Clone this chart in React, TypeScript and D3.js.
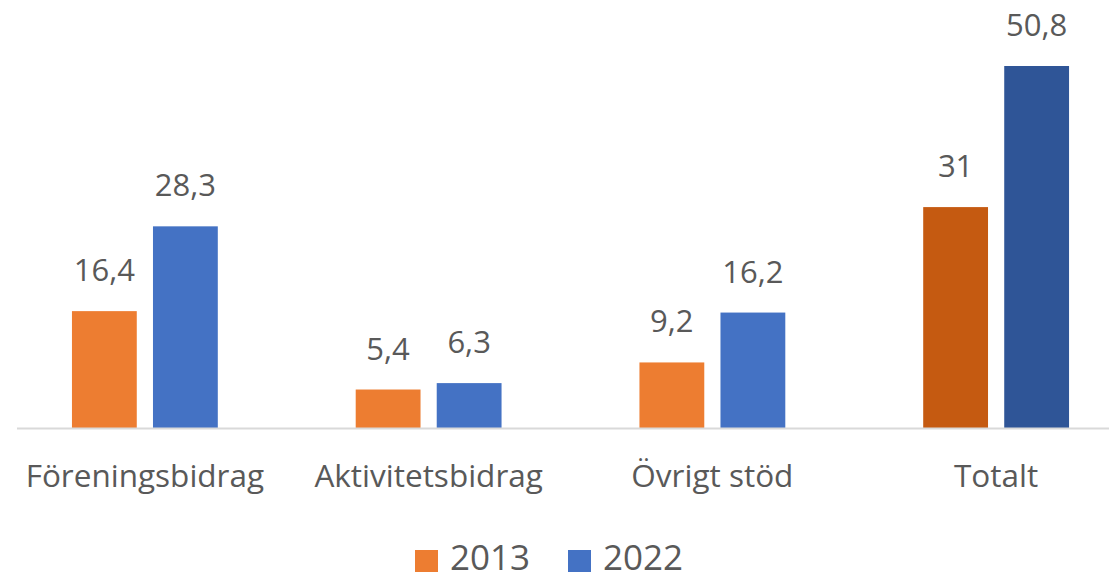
import React from "react";
import * as d3 from "d3";

const categories = ["Föreningsbidrag", "Aktivitetsbidrag", "Övrigt stöd", "Totalt"];
const seriesNames = ["2013", "2022"];
const values2013 = [16.4, 5.4, 9.2, 31];
const values2022 = [28.3, 6.3, 16.2, 50.8];
const labels2013 = ["16,4", "5,4", "9,2", "31"];
const labels2022 = ["28,3", "6,3", "16,2", "50,8"];

const W = 1109;
const H = 580;
const FONT = "'Open Sans', sans-serif";
const TEXT = "#595959";
const baseColors = ["#ED7D31", "#4472C4"];
const totalColors = ["#C55A11", "#2F5597"];

export default function App() {
  const x0 = d3.scaleBand<string>().domain(categories).range([3, 1138]).paddingInner(0.486).paddingOuter(0.243);
  const x1 = d3.scaleBand<string>().domain(seriesNames).range([0, x0.bandwidth()]).paddingInner(0.2).paddingOuter(0);
  const y = d3.scaleLinear().domain([0, 50.8]).range([428, 66]);
  const series = [values2013, values2022];
  const labels = [labels2013, labels2022];

  return (
    <svg width={W} height={H} style={{ position: "absolute", left: 0, top: 0, background: "#fff" }}>
      {categories.map((c, ci) =>
        seriesNames.map((s, si) => {
          const v = series[si][ci];
          const bx = (x0(c) ?? 0) + (x1(s) ?? 0);
          const bw = x1.bandwidth();
          const fill = c === "Totalt" ? totalColors[si] : baseColors[si];
          return (
            <g key={c + s}>
              <rect x={bx} y={y(v)} width={bw} height={y(0) - y(v)} fill={fill} />
              <text x={bx + bw / 2} y={y(v) - 30} textAnchor="middle" fontFamily={FONT} fontSize={31} fill={TEXT}>
                {labels[si][ci]}
              </text>
            </g>
          );
        })
      )}
      <line x1={17} x2={W} y1={y(0) + 0.5} y2={y(0) + 0.5} stroke="#D9D9D9" strokeWidth={2} />
      {categories.map((c) => (
        <text key={c} x={(x0(c) ?? 0) + x0.bandwidth() / 2} y={487} textAnchor="middle" fontFamily={FONT} fontSize={31.5} fill={TEXT}>
          {c}
        </text>
      ))}
      {seriesNames.map((s, si) => {
        const lx = si === 0 ? 415 : 568;
        return (
          <g key={s}>
            <rect x={lx} y={550} width={23} height={22} fill={baseColors[si]} />
            <text x={lx + 35} y={570} fontFamily={FONT} fontSize={35} fill={TEXT}>
              {s}
            </text>
          </g>
        );
      })}
    </svg>
  );
}
